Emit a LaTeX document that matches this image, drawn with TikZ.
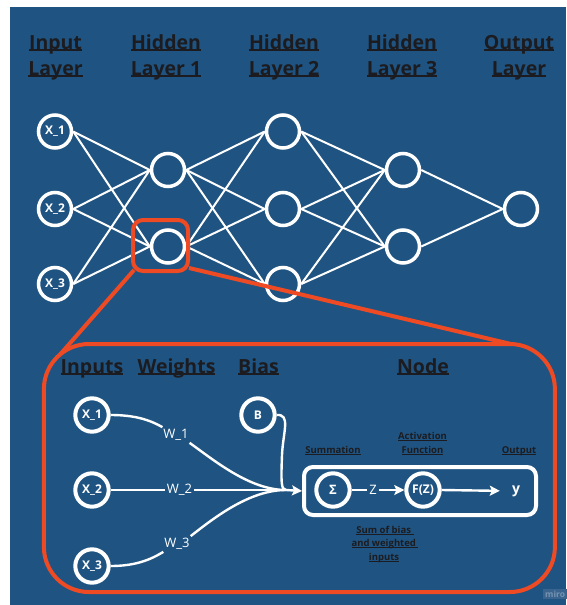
\documentclass[tikz,border=0pt]{standalone}
\usepackage{fontspec}
\setmainfont{Open Sans}
\usetikzlibrary{arrows.meta}
\definecolor{panel}{RGB}{31,84,130}
\definecolor{callout}{RGB}{238,74,36}
\definecolor{ink}{RGB}{28,28,32}
\definecolor{tagfill}{RGB}{58,100,142}
\definecolor{tagtext}{RGB}{118,148,178}
% underlined text: #1 = rule depth below baseline, #2 = rule thickness
\newcommand{\ulx}[3]{\leavevmode\setbox0\hbox{#3}\rlap{\rule[-#1]{\wd0}{#2}}\box0}
\newcommand{\hd}[1]{\ulx{2.4pt}{2.2pt}{#1}}
\newcommand{\sm}[1]{\ulx{1.6pt}{1pt}{#1}}
\begin{document}
\begin{tikzpicture}[x=1pt,y=-1pt,
  neuron/.style={circle,draw=white,line width=3.5pt,minimum size=33pt,inner sep=0pt,
    text=white,font=\fontsize{12}{12}\selectfont\bfseries},
  unit/.style={neuron,line width=4pt,minimum size=33.4pt},
  link/.style={draw=white,line width=2pt},
  flow/.style={draw=white,line width=2.4pt},
  head/.style={anchor=base,text=ink,inner sep=0pt,font=\fontsize{19.5}{24}\selectfont\bfseries},
  note/.style={anchor=base,text=ink,inner sep=0pt,font=\fontsize{9.5}{12}\selectfont\bfseries},
  wlabel/.style={text=white,inner sep=2pt,font=\fontsize{13}{13}\selectfont},
  redline/.style={draw=callout,line width=4pt},
  tip/.style={-{Stealth[length=10pt,width=10pt,inset=2pt]}},
]
\useasboundingbox (0,0) rectangle (566,605);
\fill[white] (0,0) rectangle (566,605);
\fill[panel] (10,7) rectangle (566,605);

% ---- layer headings
\node[head] (t1a) at (55.5,49) {\hd{Input}};
\node[head] (t1b) at (55.5,75) {\hd{Layer}};
\node[head] (t2a) at (166,49) {\hd{Hidden}};
\node[head] (t2b) at (166,75) {\hd{Layer 1}};
\node[head] (t3a) at (284,49) {\hd{Hidden}};
\node[head] (t3b) at (284,75) {\hd{Layer 2}};
\node[head] (t4a) at (402,49) {\hd{Hidden}};
\node[head] (t4b) at (402,75) {\hd{Layer 3}};
\node[head] (t5a) at (519,49) {\hd{Output}};
\node[head] (t5b) at (519,75) {\hd{Layer}};

% ---- network
\node[neuron] (i1) at (55,131.5) {X\_1};
\node[neuron] (i2) at (55,209) {X\_2};
\node[neuron] (i3) at (55,284) {X\_3};
\node[neuron] (h1a) at (168,170) {};
\node[neuron] (h1b) at (168,246.5) {};
\node[neuron] (h2a) at (283,131.5) {};
\node[neuron] (h2b) at (283,209) {};
\node[neuron] (h2c) at (283,284) {};
\node[neuron] (h3a) at (403,170) {};
\node[neuron] (h3b) at (403,246.5) {};
\node[neuron] (o) at (521,209) {};

\foreach \a in {i1,i2,i3} \foreach \b in {h1a,h1b} \draw[link] (\a.east) -- (\b.west);
\foreach \a in {h1a,h1b} \foreach \b in {h2a,h2b,h2c} \draw[link] (\a.east) -- (\b.west);
\foreach \a in {h2a,h2b,h2c} \foreach \b in {h3a,h3b} \draw[link] (\a.east) -- (\b.west);
\foreach \a in {h3a,h3b} \draw[link] (\a.east) -- (o.west);

% ---- callout frame
\node[redline,rounded corners=10pt,minimum width=55pt,minimum height=51pt,inner sep=0pt] (focus) at (160.5,245.5) {};
\node[redline,rounded corners=45pt,minimum width=511pt,minimum height=248pt,inner sep=0pt] (detail) at (299.4,468) {};
\coordinate (fl) at (134,270);
\coordinate (fr) at (189,268);
\coordinate (dl) at (60.5,354);
\coordinate (dr) at (511,344);
\draw[redline] (fl) -- (dl);
\draw[redline] (fr) -- (dr);

% ---- detail headings
\node[head] (hin) at (92,373) {\hd{Inputs}};
\node[head] (hw) at (176.5,373) {\hd{Weights}};
\node[head] (hb) at (258.5,373) {\hd{Bias}};
\node[head] (hn) at (423,373) {\hd{Node}};

% ---- detail nodes
\node[unit] (x1) at (92,415) {X\_1};
\node[unit] (x2) at (92,490) {X\_2};
\node[unit] (x3) at (92,566) {X\_3};
\node[unit] (b) at (258,415) {B};

\node[wlabel] (w1) at (176,435) {W\_1};
\node[wlabel] (w2) at (179.5,490) {W\_2};
\node[wlabel] (w3) at (177,544) {W\_3};
\coordinate (m) at (286,490);

\node[draw=white,line width=4pt,rounded corners=9pt,minimum width=232pt,minimum height=48pt,inner sep=0pt] (sumbox) at (420,491) {};
\node[unit,font=\fontsize{13}{13}\selectfont\bfseries] (sig) at (333,490) {Σ};
\node[text=white,inner sep=2.5pt,font=\fontsize{13}{13}\selectfont] (z) at (373,490) {Z};
\node[unit] (fz) at (423,490) {F(Z)};
\node[text=white,inner sep=2pt,font=\fontsize{14}{14}\selectfont\bfseries] (y) at (516,491) {y};

% weighted inputs flowing into the node
\draw[flow] (x1.east) .. controls (135,415) and (150,420) .. (w1.150);
\draw[flow] (w1.-30) .. controls (215,461) and (250,490) .. (m);
\draw[flow] (x2.east) -- (w2.west);
\draw[flow] (w2.east) -- (m);
\draw[flow] (x3.east) .. controls (135,566) and (150,560) .. (w3.210);
\draw[flow] (w3.30) .. controls (215,517) and (250,490) .. (m);
\draw[flow] (b.east) .. controls (291,414) and (283,432) .. (282,455)
  .. controls (281,482) and (281,490) .. (m);
\draw[flow,tip] (m) -- (sumbox.west);

\draw[flow] (sig.east) -- (z.west);
\draw[flow,tip] (z.east) -- (fz.west);
\draw[flow,tip,shorten >=10pt] (fz.east) -- (y.west);

% ---- detail captions
\node[note] (n1) at (333,453.3) {\sm{Summation}};
\node[note] (n2) at (422.5,439.3) {\sm{Activation}};
\node[note] (n3) at (422.5,453.3) {\sm{Function}};
\node[note] (n4) at (519,453.3) {\sm{Output}};
\node[note] (n5) at (385,533.3) {\sm{Sum of bias~}};
\node[note] (n6) at (385,546.8) {\sm{and weighted~}};
\node[note] (n7) at (384,560.3) {\sm{inputs}};

% ---- corner tag
\node[fill=tagfill,text=tagtext,inner sep=2pt,anchor=west,font=\fontsize{8.5}{9}\selectfont\bfseries] (tag) at (543,594) {miro};
\end{tikzpicture}
\end{document}
